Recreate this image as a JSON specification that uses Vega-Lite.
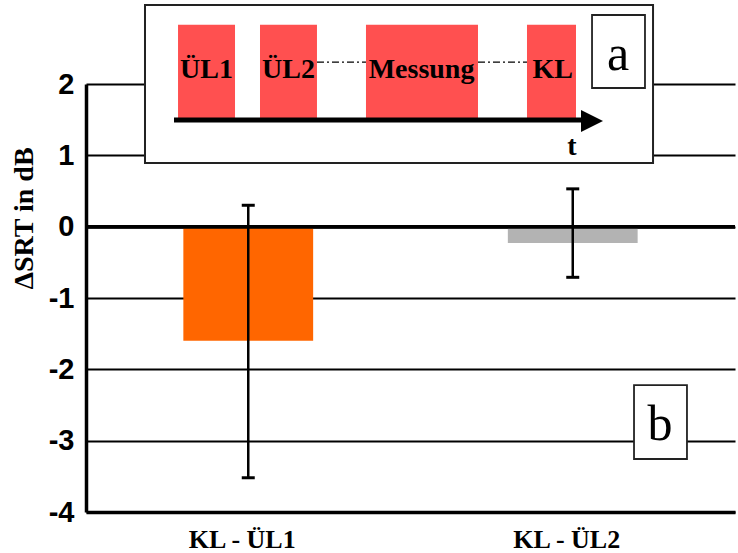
{
  "$schema": "https://vega.github.io/schema/vega-lite/v6.json",
  "width": 649,
  "height": 428,
  "autosize": {"type": "none"},
  "padding": {"left": 86, "top": 84, "right": 3, "bottom": 41},
  "background": "white",
  "config": {"view": {"stroke": null}},
  "datasets": {
    "srt": [
      {"cond": "KL - ÜL1", "mean": -1.6, "lo": -3.52, "hi": 0.3},
      {"cond": "KL - ÜL2", "mean": -0.23, "lo": -0.71, "hi": 0.53}
    ],
    "frame": [{"x0": 9.09, "x1": 87.37, "y0": 0.893, "y1": 3.107}],
    "stages": [
      {"stage": "ÜL1", "x0": 14.18, "x1": 22.96, "xc": 18.57},
      {"stage": "ÜL2", "x0": 26.81, "x1": 35.59, "xc": 31.2},
      {"stage": "Messung", "x0": 43.14, "x1": 60.4, "xc": 51.7},
      {"stage": "KL", "x0": 67.95, "x1": 75.5, "xc": 71.9}
    ],
    "links": [{"x0": 35.59, "x1": 43.14}, {"x0": 60.4, "x1": 67.95}],
    "timeline": [{"start": 13.56, "end": 76.9, "head": 77.97, "label": "t", "tx": 74.88}],
    "panels": [
      {"label": "a", "x0": 77.97, "x1": 86.13, "y0": 1.944, "y1": 2.967, "xc": 81.97, "yb": 2.196},
      {"label": "b", "x0": 84.44, "x1": 92.6, "y0": -3.257, "y1": -2.22, "xc": 88.45, "yb": -2.991}
    ]
  },
  "layer": [
    {
      "data": {"name": "srt"},
      "layer": [
        {
          "mark": {"type": "bar"},
          "encoding": {
            "x": {
              "field": "cond", "type": "nominal", "sort": null,
              "scale": {"paddingInner": 0.6, "paddingOuter": 0.3},
              "axis": {
                "title": null, "labelAngle": 0, "ticks": false, "grid": false,
                "domainColor": "black", "domainWidth": 3.5,
                "labelFont": "Liberation Serif", "labelFontSize": 26, "labelFontWeight": "bold",
                "labelColor": "black", "labelPadding": 14, "labelOffset": -6
              }
            },
            "y": {
              "field": "mean", "type": "quantitative",
              "scale": {"domain": [-4, 2], "nice": false, "zero": false},
              "axis": {
                "values": [-4, -3, -2, -1, 0, 1, 2],
                "labelExpr": "'' + datum.value",
                "title": "ΔSRT in dB",
                "ticks": false, "grid": true, "gridColor": "black", "gridWidth": 2, "gridOpacity": 1,
                "domainColor": "black", "domainWidth": 3.5,
                "labelFont": "Liberation Sans", "labelFontSize": 29, "labelFontWeight": "bold",
                "labelColor": "black", "labelPadding": 12,
                "titleFont": "Liberation Serif", "titleFontSize": 28, "titleFontWeight": "bold",
                "titleColor": "black", "titleAngle": 270, "titleX": -54, "titleY": 134,
                "titleBaseline": "alphabetic", "titleAlign": "center", "zindex": 0
              }
            },
            "y2": {"datum": 0},
            "color": {
              "field": "cond", "type": "nominal",
              "scale": {"range": ["#FF6600", "#B3B3B3"]},
              "legend": null
            }
          }
        },
        {
          "mark": {"type": "rule", "color": "black", "strokeWidth": 2.5},
          "encoding": {
            "x": {"field": "cond", "type": "nominal", "sort": null, "title": null},
            "y": {"field": "lo", "type": "quantitative", "title": "ΔSRT in dB"},
            "y2": {"field": "hi"}
          }
        },
        {
          "mark": {"type": "tick", "color": "black", "size": 13, "thickness": 3, "opacity": 1},
          "encoding": {
            "x": {"field": "cond", "type": "nominal", "sort": null, "title": null},
            "y": {"field": "hi", "type": "quantitative", "title": "ΔSRT in dB"}
          }
        },
        {
          "mark": {"type": "tick", "color": "black", "size": 13, "thickness": 3, "opacity": 1},
          "encoding": {
            "x": {"field": "cond", "type": "nominal", "sort": null, "title": null},
            "y": {"field": "lo", "type": "quantitative", "title": "ΔSRT in dB"}
          }
        },
        {
          "mark": {"type": "rule", "color": "black", "strokeWidth": 3.5},
          "encoding": {
            "y": {"datum": 0, "type": "quantitative", "title": "ΔSRT in dB"}
          }
        }
      ]
    },
    {
      "layer": [
        {
          "data": {"name": "frame"},
          "mark": {"type": "rect", "fill": "white", "stroke": "#222222", "strokeWidth": 2},
          "encoding": {
            "x": {"field": "x0", "type": "quantitative", "scale": {"domain": [0, 100], "nice": false, "zero": false}, "axis": null},
            "x2": {"field": "x1"},
            "y": {"field": "y0", "type": "quantitative", "scale": {"domain": [-4, 2], "nice": false, "zero": false}, "axis": null},
            "y2": {"field": "y1"}
          }
        },
        {
          "data": {"name": "stages"},
          "mark": {"type": "rect", "fill": "#FF5050"},
          "encoding": {
            "x": {"field": "x0", "type": "quantitative", "scale": {"domain": [0, 100], "nice": false, "zero": false}, "axis": null},
            "x2": {"field": "x1"},
            "y": {"datum": 1.52, "type": "quantitative", "scale": {"domain": [-4, 2], "nice": false, "zero": false}, "axis": null},
            "y2": {"datum": 2.83}
          }
        },
        {
          "data": {"name": "stages"},
          "mark": {"type": "text", "font": "Liberation Serif", "fontSize": 28, "fontWeight": "bold", "color": "black", "align": "center", "baseline": "alphabetic"},
          "encoding": {
            "x": {"field": "xc", "type": "quantitative", "scale": {"domain": [0, 100], "nice": false, "zero": false}, "axis": null},
            "y": {"datum": 2.09, "type": "quantitative", "scale": {"domain": [-4, 2], "nice": false, "zero": false}, "axis": null},
            "text": {"field": "stage"}
          }
        },
        {
          "data": {"name": "links"},
          "mark": {"type": "rule", "color": "black", "strokeWidth": 1.2, "strokeDash": [7, 3, 2, 3]},
          "encoding": {
            "x": {"field": "x0", "type": "quantitative", "scale": {"domain": [0, 100], "nice": false, "zero": false}, "axis": null},
            "x2": {"field": "x1"},
            "y": {"datum": 2.308, "type": "quantitative", "scale": {"domain": [-4, 2], "nice": false, "zero": false}, "axis": null}
          }
        },
        {
          "data": {"name": "timeline"},
          "mark": {"type": "rule", "color": "black", "strokeWidth": 5},
          "encoding": {
            "x": {"field": "start", "type": "quantitative", "scale": {"domain": [0, 100], "nice": false, "zero": false}, "axis": null},
            "x2": {"field": "end"},
            "y": {"datum": 1.495, "type": "quantitative", "scale": {"domain": [-4, 2], "nice": false, "zero": false}, "axis": null}
          }
        },
        {
          "data": {"name": "timeline"},
          "mark": {"type": "point", "shape": "M-1,-1L1,0L-1,1Z", "size": 484, "filled": true, "color": "black", "opacity": 1, "strokeWidth": 0},
          "encoding": {
            "x": {"field": "head", "type": "quantitative", "scale": {"domain": [0, 100], "nice": false, "zero": false}, "axis": null},
            "y": {"datum": 1.481, "type": "quantitative", "scale": {"domain": [-4, 2], "nice": false, "zero": false}, "axis": null}
          }
        },
        {
          "data": {"name": "timeline"},
          "mark": {"type": "text", "font": "Liberation Serif", "fontSize": 28, "fontWeight": "bold", "color": "black", "align": "center", "baseline": "alphabetic"},
          "encoding": {
            "x": {"field": "tx", "type": "quantitative", "scale": {"domain": [0, 100], "nice": false, "zero": false}, "axis": null},
            "y": {"datum": 1.005, "type": "quantitative", "scale": {"domain": [-4, 2], "nice": false, "zero": false}, "axis": null},
            "text": {"field": "label"}
          }
        },
        {
          "data": {"name": "panels"},
          "mark": {"type": "rect", "fill": "white", "stroke": "#222222", "strokeWidth": 1.8},
          "encoding": {
            "x": {"field": "x0", "type": "quantitative", "scale": {"domain": [0, 100], "nice": false, "zero": false}, "axis": null},
            "x2": {"field": "x1"},
            "y": {"field": "y0", "type": "quantitative", "scale": {"domain": [-4, 2], "nice": false, "zero": false}, "axis": null},
            "y2": {"field": "y1"}
          }
        },
        {
          "data": {"name": "panels"},
          "mark": {"type": "text", "font": "Liberation Serif", "fontSize": 50, "color": "black", "align": "center", "baseline": "alphabetic"},
          "encoding": {
            "x": {"field": "xc", "type": "quantitative", "scale": {"domain": [0, 100], "nice": false, "zero": false}, "axis": null},
            "y": {"field": "yb", "type": "quantitative", "scale": {"domain": [-4, 2], "nice": false, "zero": false}, "axis": null},
            "text": {"field": "label"}
          }
        }
      ]
    }
  ],
  "resolve": {"scale": {"x": "independent", "y": "independent", "color": "independent"}}
}
